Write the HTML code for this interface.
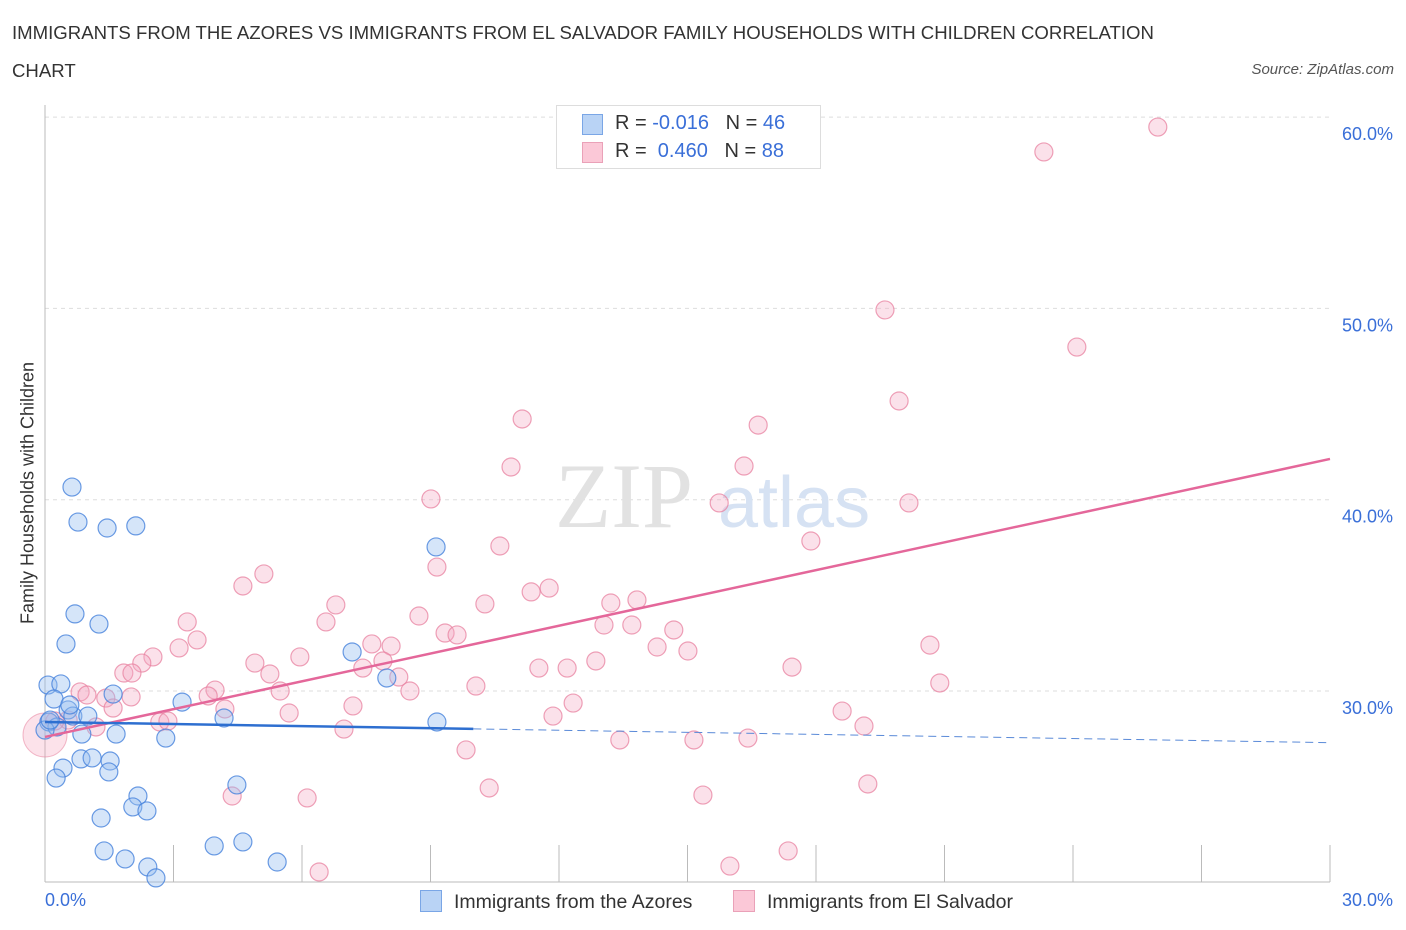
<!DOCTYPE html>
<html><head><meta charset="utf-8"><style>
body{margin:0;background:#fff;font-family:"Liberation Sans",sans-serif;}
#wrap{position:relative;width:1406px;height:930px;overflow:hidden;}
.t{position:absolute;white-space:nowrap;}
</style></head><body>
<div id="wrap">
<div class="t" style="left:12px;top:14px;font-size:18.6px;color:#333;line-height:38px;">IMMIGRANTS FROM THE AZORES VS IMMIGRANTS FROM EL SALVADOR FAMILY HOUSEHOLDS WITH CHILDREN CORRELATION<br>CHART</div>
<div class="t" style="right:12px;top:61px;font-size:15px;color:#555;font-style:italic;">Source: ZipAtlas.com</div>
<svg id="svg" width="1406" height="930" style="position:absolute;left:0;top:0"></svg>
</div>
<script>
const blueX=[0.63,0.77,1.45,2.12,0.70,1.26,0.49,0.07,0.37,0.21,0.54,0.65,1.59,1.00,0.09,0.28,1.66,0.86,2.82,3.20,4.18,7.17,7.98,9.13,9.15,0.84,1.10,1.52,1.49,0.42,0.26,2.17,2.05,2.38,1.31,4.48,1.38,1.87,2.40,2.59,3.95,4.62,5.42,0.0,0.58,0.12];
const blueY=[40.66,38.83,38.52,38.63,34.03,33.50,32.46,30.31,30.37,29.58,29.01,28.69,29.84,28.69,28.38,28.12,27.75,27.75,27.54,29.42,28.59,32.04,30.68,37.53,28.38,26.45,26.50,26.34,25.77,25.97,25.45,24.51,23.94,23.73,23.36,25.09,21.64,21.22,20.80,20.23,21.90,22.11,21.06,27.96,29.27,28.48];
const pinkX=[25.98,23.32,19.61,24.09,19.94,11.14,16.65,10.88,16.32,9.01,15.74,20.17,17.88,10.62,9.15,5.11,4.62,11.77,11.35,6.79,10.27,13.82,13.21,8.73,3.32,6.56,13.05,13.70,9.34,9.62,14.68,3.55,3.13,7.63,8.08,14.29,15.01,20.66,5.95,2.52,2.26,4.90,7.42,11.53,12.19,12.86,17.44,1.84,2.03,5.25,7.89,8.26,10.06,20.89,3.97,5.49,8.52,3.81,1.42,2.01,0.82,0.98,12.33,7.19,4.20,1.59,5.70,11.86,18.61,2.68,2.87,6.98,19.12,1.19,0.54,0.23,13.42,15.15,16.41,9.83,10.37,4.37,6.12,15.36,19.21,17.35,15.99,6.40];
const pinkY=[59.48,58.18,49.92,47.98,45.16,44.22,43.90,41.71,41.76,40.04,39.83,39.83,37.84,37.58,36.48,36.12,35.49,35.38,35.18,34.50,34.55,34.76,34.60,33.92,33.61,33.61,33.45,33.45,33.03,32.93,33.19,32.67,32.25,32.46,32.35,32.30,32.09,32.40,31.78,31.78,31.46,31.46,31.20,31.20,31.20,31.57,31.25,30.94,30.94,30.89,31.57,30.73,30.26,30.42,30.05,30.00,30.00,29.74,29.63,29.69,29.95,29.79,29.37,29.22,29.06,29.11,28.85,28.69,28.95,28.38,28.43,28.01,28.17,28.12,28.48,28.43,27.44,27.44,27.54,26.92,24.93,24.51,24.41,24.56,25.14,21.64,20.85,20.54];
const yTicks=[30,40,50,60];
const yTickLabels=["30.0%","40.0%","50.0%","60.0%"];
const pinkTrend=[27.6,42.13];
const blueTrend=[28.38,27.3];
const NS="http://www.w3.org/2000/svg";
const svg=document.getElementById('svg');
const X=v=>45+v/30*1285;
const Y=v=>691-(v-30)*19.13;
function el(tag,a,parent){const e=document.createElementNS(NS,tag);for(const k in a)e.setAttribute(k,a[k]);(parent||svg).appendChild(e);return e;}
yTicks.forEach((t,i)=>{
  const g=el('line',{x1:45,x2:1330,y1:Y(t),y2:Y(t),stroke:'#ddd','stroke-dasharray':'4,4'});
  
  
  const tx=el('text',{x:1393,y:Y(t)+23,'text-anchor':'end','font-size':18,fill:'#3a6fd8','font-family':'Liberation Sans'});
  tx.textContent=yTickLabels[i];
  
  
});
el('line',{x1:45,x2:45,y1:105,y2:882,stroke:'#bbb'});
el('line',{x1:45,x2:1330,y1:882,y2:882,stroke:'#bbb'});
for(let i=1;i<=10;i++){const tk=el('line',{x1:X(i*3),x2:X(i*3),y1:845,y2:882,stroke:'#bbb'});

}
const wm=el('text',{x:555,y:527,'font-size':92,fill:'#e2e2e2','font-family':'Liberation Serif'});wm.textContent='ZIP';


const wm2=el('text',{x:718,y:527,'font-size':72,fill:'#d6e2f3','font-family':'Liberation Sans'});wm2.textContent='atlas';


const big=el('circle',{cx:X(0),cy:Y(27.7),r:22,fill:'rgba(244,160,185,0.3)',stroke:'rgba(230,120,150,0.5)'});


pinkX.forEach((x,i)=>{const c=el('circle',{cx:X(x),cy:Y(pinkY[i]),r:9,fill:'rgba(244,170,195,0.35)',stroke:'rgba(232,130,160,0.75)','stroke-width':1.2});

});
blueX.forEach((x,i)=>{const c=el('circle',{cx:X(x),cy:Y(blueY[i]),r:9,fill:'rgba(150,190,240,0.4)',stroke:'rgba(70,130,220,0.8)','stroke-width':1.2});

});
const pl=el('line',{x1:X(0),y1:Y(pinkTrend[0]),x2:X(30),y2:Y(pinkTrend[1]),stroke:'#e4679a','stroke-width':2.5});


const bAt=x=>blueTrend[0]+(blueTrend[1]-blueTrend[0])*x/30;
const bl=el('line',{x1:X(0),y1:Y(bAt(0)),x2:X(10),y2:Y(bAt(10)),stroke:'#2e6fd0','stroke-width':2.5});


const bd=el('line',{x1:X(10),y1:Y(bAt(10)),x2:X(30),y2:Y(bAt(30)),stroke:'#5a8ad8','stroke-width':1,'stroke-dasharray':'8,5'});


</script>
<div class="t" style="left:45px;top:890px;font-size:18px;color:#3a6fd8;">0.0%</div>
<div class="t" style="right:13px;top:890px;font-size:18px;color:#3a6fd8;">30.0%</div>
<div class="t" style="left:28px;top:493px;font-size:18px;color:#333;transform:translate(-50%,-50%) rotate(-90deg);">Family Households with Children</div>
<div style="position:absolute;left:556px;top:105px;width:263px;height:62px;border:1px solid #ddd;background:#fff;font-size:20px;color:#333;">
 <div style="position:absolute;left:25px;top:8px;width:19px;height:19px;background:#b9d3f5;border:1px solid #7aa6e6;"></div>
 <div class="t" style="left:58px;top:6px;">R = <span style="color:#3a6fd8">-0.016</span>&nbsp;&nbsp;&nbsp;N = <span style="color:#3a6fd8">46</span></div>
 <div style="position:absolute;left:25px;top:36px;width:19px;height:19px;background:#fbc8d7;border:1px solid #eaa1b8;"></div>
 <div class="t" style="left:58px;top:34px;">R = &nbsp;<span style="color:#3a6fd8">0.460</span>&nbsp;&nbsp;&nbsp;N = <span style="color:#3a6fd8">88</span></div>
</div>
<div style="position:absolute;left:420px;top:890px;font-size:19.5px;color:#333;">
 <div style="position:absolute;left:0;top:0;white-space:nowrap;"><span style="display:inline-block;width:20px;height:20px;background:#b9d3f5;border:1px solid #7aa6e6;vertical-align:-4px;margin-right:12px;"></span>Immigrants from the Azores</div>
 <div style="position:absolute;left:313px;top:0;white-space:nowrap;"><span style="display:inline-block;width:20px;height:20px;background:#fbc8d7;border:1px solid #eaa1b8;vertical-align:-4px;margin-right:12px;"></span>Immigrants from El Salvador</div>
</div>
</body></html>
